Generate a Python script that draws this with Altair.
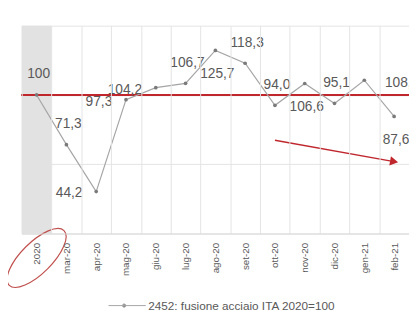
import altair as alt
import pandas as pd

# ---- data ----
months = ["2020", "mar-20", "apr-20", "mag-20", "giu-20", "lug-20", "ago-20",
          "set-20", "ott-20", "nov-20", "dic-20", "gen-21", "feb-21"]
values = [100, 71.3, 44.2, 97.3, 104.2, 106.7, 125.7, 118.3, 94.0, 106.6, 95.1, 108.5, 87.6]
series_name = "2452: fusione acciaio ITA 2020=100"
reference_value = 100
highlight_months = ["2020"]
arrow_months = ["ott-20", "feb-21"]
arrow_levels = [73.8, 61.5]
ellipse_month = "2020"
ellipse_level = 5.9

# label placement (layout only)
label_pos = ["above", "above", "left", "left", "left", "above", "below",
             "above", "above", "below", "above", "right", "below"]

labels = ["100" if v == 100 else f"{v:.1f}".replace(".", ",") for v in values]
df = pd.DataFrame({"mese": months, "valore": values, "etichetta": labels,
                   "pos": label_pos, "serie": series_name})
hl = pd.DataFrame({"mese": highlight_months})
arrow_df = pd.DataFrame({"x": [arrow_months[0]], "x2": [arrow_months[1]],
                         "y": [arrow_levels[0]], "y2": [arrow_levels[1]]})
head_df = pd.DataFrame({"x": [arrow_months[1]], "y": [arrow_levels[1]]})

RED = "#c0272d"
GREY_TXT = "#595959"
FONT = "Liberation Sans"

x_scale = alt.Scale(type="band", domain=months, paddingInner=0, paddingOuter=0)
y_scale = alt.Scale(domain=[20, 140], nice=False, zero=False)

x_axis = alt.Axis(title="", tickBand="extent", grid=True, gridColor="#e3e3e3", gridWidth=1,
                  ticks=False, labelAngle=270, labelPadding=9, labelFontSize=10,
                  labelColor=GREY_TXT, labelFont=FONT, domainColor="#d9d9d9")
y_axis = alt.Axis(title="", grid=True, gridColor="#e3e3e3", gridWidth=1, ticks=False,
                  labels=False, domain=False, values=[20, 40, 60, 80, 100, 120, 140])

band = alt.Chart(hl).mark_rect(color="#e2e2e2").encode(
    x=alt.X("mese:N", scale=x_scale, axis=x_axis, sort=months),
    y=alt.Y(datum=20, scale=y_scale, axis=y_axis),
    y2=alt.Y2(datum=140),
)

ref_rule = alt.Chart(df).mark_rule(color=RED, strokeWidth=2).encode(
    y=alt.Y(datum=reference_value)
)

legend_path = "M-1,0L1,0M-0.25,0A0.09,0.09,0,1,1,-0.07,0A0.09,0.09,0,1,1,-0.25,0Z"
line = alt.Chart(df).mark_line(strokeWidth=1.2).encode(
    x=alt.X("mese:N", sort=months),
    y=alt.Y("valore:Q"),
    color=alt.Color("serie:N", scale=alt.Scale(range=["#a5a5a5"]),
                    legend=alt.Legend(title="", orient="none", legendX=88, legendY=266,
                                      symbolType=legend_path, symbolSize=1444,
                                      symbolStrokeWidth=1, symbolFillColor="#808080",
                                      labelFontSize=12, labelColor=GREY_TXT, labelFont=FONT,
                                      labelOffset=2, labelLimit=400, padding=0)),
)

pts = alt.Chart(df).mark_point(filled=True, size=14, color="#7a7a7a", opacity=1).encode(
    x=alt.X("mese:N", sort=months),
    y=alt.Y("valore:Q"),
)

offsets = {
    "above": dict(align="center", dx=2, dy=-21),
    "below": dict(align="center", dx=2, dy=24),
    "left": dict(align="right", dx=-14, dy=2),
    "right": dict(align="left", dx=21, dy=3),
}
text_layers = []
for p, o in offsets.items():
    text_layers.append(
        alt.Chart(df).transform_filter(alt.datum.pos == p).mark_text(
            fontSize=14, font=FONT, color=GREY_TXT, baseline="middle", **o
        ).encode(
            x=alt.X("mese:N", sort=months),
            y=alt.Y("valore:Q"),
            text="etichetta:N",
        )
    )

arrow = alt.Chart(arrow_df).mark_rule(color=RED, strokeWidth=1.5).encode(
    x=alt.X("x:N", sort=months), x2="x2:N", y="y:Q", y2="y2:Q"
)
head = alt.Chart(head_df).mark_point(shape="triangle-right", filled=True, size=90,
                                     angle=10, color=RED, opacity=1).encode(
    x=alt.X("x:N", sort=months), y="y:Q"
)

ellipse_path = "M-1,0A1,0.4,0,1,1,1,0A1,0.4,0,1,1,-1,0Z"
ellipse = alt.Chart(pd.DataFrame({"x": [ellipse_month], "y": [ellipse_level]})).mark_point(
    shape=ellipse_path, size=6241, angle=315, filled=False, color="#c0504d",
    strokeWidth=1.2, opacity=1
).encode(x=alt.X("x:N", sort=months), y="y:Q")

chart = alt.layer(band, ref_rule, line, pts, *text_layers, arrow, head, ellipse).properties(
    width=395, height=212,
    autosize=alt.AutoSizeParams(type="none"),
    padding={"left": 14, "top": 15, "right": 0, "bottom": 76},
    background="white",
).configure_view(stroke=None)

chart.save("out.html", embed_options={"renderer": "svg", "actions": False})
